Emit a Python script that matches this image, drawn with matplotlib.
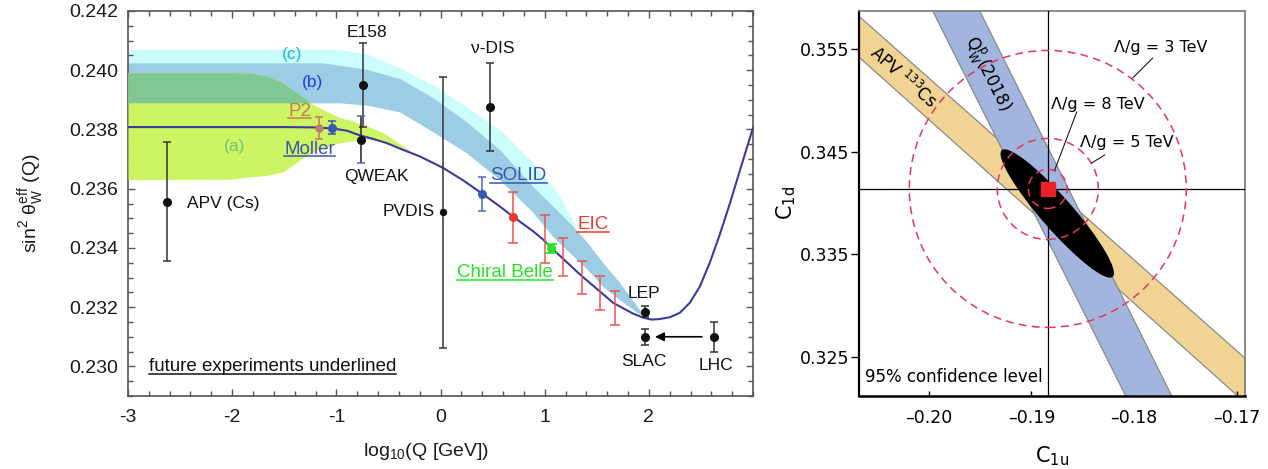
import numpy as np
import matplotlib
matplotlib.use("Agg")
import matplotlib.pyplot as plt
from matplotlib.patches import Polygon, Ellipse, Circle
from matplotlib.ticker import MultipleLocator, FixedLocator, FuncFormatter
from matplotlib.lines import Line2D

# ----------------------------- data: left panel -----------------------------
sm_logq = [-3.0, -1.5, -1.2, -1.03, -0.90, -0.774, -0.646, -0.517, -0.358, -0.198,
           0.026, 0.218, 0.394, 0.57, 0.695, 0.89, 0.986, 1.05, 1.34, 1.66, 1.85,
           1.95, 2.029, 2.106, 2.202, 2.298, 2.394, 2.489, 2.585, 2.681, 2.777,
           2.873, 2.988, 3.0]
sm_s2w = [0.23808, 0.23808, 0.23807, 0.23803, 0.23796, 0.23780, 0.23768, 0.23754,
          0.23731, 0.23709, 0.23670, 0.23628, 0.23585, 0.23540, 0.23506, 0.23456,
          0.23428, 0.23405, 0.23310, 0.23214, 0.23178, 0.23164, 0.23158, 0.23160,
          0.23166, 0.23181, 0.23215, 0.23269, 0.23350, 0.23445, 0.23549, 0.23660,
          0.23792, 0.23805]

band_a_x = [-3.0, -2.02, -1.83, -1.67, -1.51, -1.35, -1.25, -1.19, -0.97, -0.87, -0.71, -0.55, -0.30]
band_a_hi = [0.23992, 0.23992, 0.23990, 0.23981, 0.23957, 0.23917, 0.23890, 0.23878,
             0.23840, 0.23832, 0.23812, 0.23789, 0.23730]
band_a_lo = [0.23630, 0.23632, 0.23640, 0.23645, 0.23657, 0.23697, 0.23718, 0.23731,
             0.23755, 0.23760, 0.23768, 0.23760, 0.23726]

band_b_x_hi = [-3.0, -1.13, -0.71, -0.39, -0.07, 0.25, 0.57, 0.89, 1.24, 1.41, 1.56, 1.72, 1.89, 1.96]
band_b_hi = [0.24025, 0.24025, 0.24003, 0.23972, 0.23907, 0.23826, 0.23731, 0.23606,
             0.23485, 0.23418, 0.23350, 0.23283, 0.23202, 0.23168]
band_b_x_lo = [-3.0, -0.97, -0.70, -0.39, -0.07, 0.25, 0.57, 0.89, 1.08, 1.24, 1.41, 1.56, 1.72, 1.89, 1.96]
band_b_lo = [0.23890, 0.23890, 0.23882, 0.23859, 0.23792, 0.23721, 0.23630, 0.23519,
             0.23438, 0.23384, 0.23327, 0.23269, 0.23225, 0.23181, 0.23168]

band_c_x = [-3.0, -1.0, -0.70, -0.39, -0.07, 0.25, 0.57, 0.89, 1.15, 1.30]
band_c_hi = [0.24071, 0.24071, 0.24055, 0.24008, 0.23950, 0.23876, 0.23799, 0.23687, 0.23573, 0.23470]

# existing measurements (black)
meas_names = ["APV (Cs)", "E158", "QWEAK", "PVDIS", "ν-DIS", "LEP", "SLAC", "LHC"]
meas_logq = [-2.63, -0.745, -0.764, 0.023, 0.474, 1.962, 1.962, 2.624]
meas_s2w = [0.23556, 0.23950, 0.23765, 0.23520, 0.23876, 0.23185, 0.23098, 0.23100]
meas_err = [0.00200, 0.00141, 0.00079, 0.00457, 0.00150, 0.00018, 0.00027, 0.00050]

# future experiments
p2_logq, p2_s2w, p2_err = -1.167, 0.23805, 0.00037
moller_logq, moller_s2w, moller_err = -1.042, 0.23805, 0.00022
solid_logq, solid_s2w, solid_err = 0.397, 0.23582, 0.00059
belle_logq, belle_s2w, belle_err = 1.060, 0.23399, 0.00015
eic_logq = [0.695, 1.002, 1.175, 1.357, 1.530, 1.674]
eic_s2w = [0.23504, 0.23430, 0.23370, 0.23300, 0.23249, 0.23198]
eic_err = [0.00086, 0.00080, 0.00064, 0.00057, 0.00057, 0.00057]

# LHC -> SLAC arrow (log10 Q, sin2)
arrow_from = (2.51, 0.2310)
arrow_to = (2.06, 0.2310)

# ----------------------------- data: right panel ----------------------------
apv_c1u = [-0.2100, -0.1660, -0.1660, -0.2100]
apv_c1d = [0.36103, 0.32205, 0.31771, 0.35707]
qw_c1u = [-0.20127, -0.19668, -0.17474, -0.17921]
qw_c1d = [0.3620, 0.3620, 0.3180, 0.3180]
sm_c1u, sm_c1d = -0.18841, 0.34137
fit_center = (-0.18749, 0.33898)
fit_width, fit_height, fit_angle = 0.0164, 0.0031, -48.8
lambda_labels = ["Λ/g = 3 TeV", "Λ/g = 5 TeV", "Λ/g = 8 TeV"]
lambda_radii = [0.01349, 0.00492, 0.00190]

# ----------------------------- style -----------------------------
plt.rcParams['font.family'] = ['Liberation Sans', 'DejaVu Sans']
plt.rcParams['mathtext.fontset'] = 'custom'
plt.rcParams['mathtext.rm'] = 'Liberation Sans'
plt.rcParams['axes.unicode_minus'] = False

fig = plt.figure(figsize=(12.68, 4.69), dpi=100)
ax = fig.add_axes([128/1268, 73/469, 625/1268, 385/469])
ax2 = fig.add_axes([859/1268, 73/469, 386/1268, 385/469])

# ----------------------------- left panel -----------------------------
xf = np.linspace(-3, 3, 2401)
a_hi = np.interp(xf, band_a_x, band_a_hi)
a_lo = np.interp(xf, band_a_x, band_a_lo)
b_hi = np.interp(xf, band_b_x_hi, band_b_hi)
b_lo = np.interp(xf, band_b_x_lo, band_b_lo)
c_hi = np.interp(xf, band_c_x, band_c_hi)
in_a = xf <= band_a_x[-1]
in_b = xf <= band_b_x_hi[-1]
in_c = xf <= band_c_x[-1]

ax.fill_between(xf, b_lo, c_hi, where=in_c, color='#ccfdfd', lw=0, zorder=1)
ax.fill_between(xf, b_lo, b_hi, where=in_b, color='#9dcde4', lw=0, zorder=2)
ax.fill_between(xf, a_lo, a_hi, where=in_a, color='#cdf563', lw=0, zorder=3)
ov_lo = np.maximum(a_lo, b_lo)
ov_hi = np.minimum(a_hi, b_hi)
ax.fill_between(xf, ov_lo, ov_hi, where=in_a & (ov_hi > ov_lo), color='#7fc894',
                lw=0, zorder=4, interpolate=True)

ax.plot(sm_logq, sm_s2w, color='#3b3a9e', lw=1.5, zorder=6, solid_joinstyle='round')

# black measurements
for i, name in enumerate(meas_names):
    ms = 4.3 if name == "PVDIS" else 5.5
    if name == "QWEAK":
        ax.errorbar(meas_logq[i], meas_s2w[i], yerr=meas_err[i], fmt='o', color='#111',
                    ms=ms, ecolor='#222', elinewidth=1.1, capsize=0, zorder=8)
        ax.errorbar(meas_logq[i], meas_s2w[i], yerr=meas_err[i], fmt='none',
                    ecolor='#4a64c8', elinewidth=0, capsize=3.2, capthick=1.1, zorder=8)
    else:
        ax.errorbar(meas_logq[i], meas_s2w[i], yerr=meas_err[i], fmt='o', color='#111',
                    ms=ms, ecolor='#333', elinewidth=1.1, capsize=3.2, capthick=1.1, zorder=8)

ax.errorbar(p2_logq, p2_s2w, yerr=p2_err, fmt='o', color='#c07a68', ms=5, ecolor='#c07a68',
            elinewidth=1.1, capsize=3.2, capthick=1.1, zorder=8)
ax.errorbar(moller_logq, moller_s2w, yerr=moller_err, fmt='o', color='#3a56b4', ms=5.5,
            ecolor='#3a56b4', elinewidth=1.1, capsize=3.2, capthick=1.1, zorder=8)
ax.errorbar(solid_logq, solid_s2w, yerr=solid_err, fmt='o', color='#3a56b4', ms=5.5,
            ecolor='#4a66c4', elinewidth=1.1, capsize=3.2, capthick=1.1, zorder=8)
ax.errorbar(belle_logq, belle_s2w, yerr=belle_err, fmt='o', color='#2ee02e', ms=5.5,
            ecolor='#2ee02e', elinewidth=1.1, capsize=4.0, capthick=1.3, zorder=8)
ax.errorbar(eic_logq, eic_s2w, yerr=eic_err, fmt='none', ecolor='#e8564c',
            elinewidth=1.1, capsize=3.6, capthick=1.1, zorder=7)
ax.plot(eic_logq[0], eic_s2w[0], 'o', color='#e83a2c', ms=5.5, zorder=8)

ax.annotate('', xy=arrow_to, xytext=arrow_from,
            arrowprops=dict(arrowstyle='-|>', color='black', lw=1.2, mutation_scale=13,
                            shrinkA=0, shrinkB=0), zorder=9)

fs = 12.5
txt = dict(fontsize=fs, ha='center', va='center', zorder=10)
ax.text(-0.706, 0.24129, 'E158', color='#111', **txt)
ax.text(-1.426, 0.24052, '(c)', color='#22b4dc', **txt)
ax.text(-1.225, 0.23957, '(b)', color='#1c3ee6', **txt)
ax.text(-1.973, 0.23741, '(a)', color='#78c078', **txt)
ax.text(-0.615, 0.23642, 'QWEAK', color='#111', **txt)
ax.text(-2.434, 0.23551, 'APV (Cs)', color='#111', fontsize=fs, ha='left', va='center')
ax.text(-0.054, 0.23522, 'PVDIS', color='#111', fontsize=fs, ha='right', va='center')
ax.text(0.503, 0.24074, 'ν-DIS', color='#111', **txt)
ax.text(1.952, 0.23247, 'LEP', color='#111', **txt)
ax.text(1.957, 0.23018, 'SLAC', color='#111', **txt)
ax.text(2.643, 0.23004, 'LHC', color='#111', **txt)

under = []
under.append(ax.text(-1.349, 0.23861, 'P2', color='#c07a58', fontsize=13.5, ha='center', va='center', zorder=10))
under.append(ax.text(-1.258, 0.23733, 'Moller', color='#3a52b0', fontsize=13.5, ha='center', va='center', zorder=10))
under.append(ax.text(0.748, 0.23643, 'SOLID', color='#3a52b0', fontsize=13.5, ha='center', va='center', zorder=10))
under.append(ax.text(1.463, 0.23479, 'EIC', color='#e8402e', fontsize=13.5, ha='center', va='center', zorder=10))
under.append(ax.text(0.618, 0.23316, 'Chiral Belle', color='#22e622', fontsize=13.5, ha='center', va='center', zorder=10))
under.append(ax.text(-2.798, 0.22998, 'future experiments underlined', color='#111', fontsize=13.5,
                     ha='left', va='center', zorder=10))

ax.set_xlim(-3, 3)
ax.set_ylim(0.229, 0.242)
ax.xaxis.set_major_locator(FixedLocator([-3, -2, -1, 0, 1, 2]))
ax.xaxis.set_minor_locator(MultipleLocator(0.2))
ax.yaxis.set_major_locator(MultipleLocator(0.002))
ax.yaxis.set_minor_locator(MultipleLocator(0.0005))
ax.yaxis.set_major_formatter(FuncFormatter(lambda v, p: f"{v:.3f}"))
ax.xaxis.set_major_formatter(FuncFormatter(lambda v, p: f"{v:.0f}"))
ax.tick_params(which='both', direction='in', top=True, right=True, color='#555555',
               labelsize=14, labelcolor='#1a1a1a')
ax.tick_params(which='major', length=5, width=1.0)
ax.tick_params(which='minor', length=3.3, width=1.0)
ax.tick_params(axis='x', pad=9)
ax.tick_params(axis='y', pad=7)
for s in ax.spines.values():
    s.set_color('#555555')
    s.set_linewidth(1.2)
ax.set_xlabel('log$_\\mathregular{10}$(Q [GeV])', fontsize=14, color='#1a1a1a')
ax.xaxis.set_label_coords(0.477, -0.117)
ax.set_ylabel('sin$^\\mathregular{2}$ θ$_\\mathregular{W}^\\mathregular{eff}$ (Q)', fontsize=14, color='#1a1a1a')
ax.yaxis.set_label_coords(-0.13, 0.5)

# ----------------------------- right panel -----------------------------
rf = ['DejaVu Sans']
ax2.add_patch(Polygon(np.column_stack([apv_c1u, apv_c1d]), closed=True, fc='#f1d394',
                      ec='#8a8a8a', lw=0.9, zorder=1))
ax2.add_patch(Polygon(np.column_stack([qw_c1u, qw_c1d]), closed=True, fc='#a1b5de',
                      ec='#8a8a8a', lw=0.9, zorder=2))
ax2.add_patch(Ellipse(fit_center, fit_width, fit_height, angle=fit_angle, fc='black',
                      ec='none', zorder=3))
ax2.axvline(sm_c1u, color='black', lw=0.9, zorder=4)
ax2.axhline(sm_c1d, color='black', lw=0.9, zorder=4)
for r in lambda_radii:
    ax2.add_patch(Circle((sm_c1u, sm_c1d), r, fill=False, ec='#e8345e', lw=1.1,
                         ls=(0, (5.2, 3.4)), zorder=5))
ax2.plot(sm_c1u, sm_c1d, 's', color='#ea2128', ms=9.5, zorder=6)

# labels and leaders
ax2.text(-0.17741, 0.35510, lambda_labels[0], family=rf, fontsize=11.5, ha='center', va='center')
ax2.text(-0.18072, 0.34585, lambda_labels[1], family=rf, fontsize=11.5, ha='center', va='center')
ax2.text(-0.18354, 0.34955, lambda_labels[2], family=rf, fontsize=11.5, ha='center', va='center')
ax2.plot([-0.17819, -0.18014], [0.35412, 0.35217], color='black', lw=0.7, zorder=7)
ax2.plot([-0.18286, -0.18413], [0.34468, 0.34390], color='black', lw=0.7, zorder=7)
ax2.plot([-0.18559, -0.18773], [0.34887, 0.34322], color='black', lw=0.7, zorder=7)

ax2.text(-0.20253, 0.35227, 'APV $^\\mathregular{133}$Cs', family=rf, fontsize=12,
         rotation=-41.5, rotation_mode='anchor', ha='center', va='center', zorder=8)
ax2.text(-0.19426, 0.35257, 'Q$_\\mathregular{W}^\\mathregular{p}$(2018)', family=rf, fontsize=12,
         rotation=-63.4, rotation_mode='anchor', ha='center', va='center', zorder=8)
ax2.text(-0.20623, 0.32306, '95% confidence level', family=rf, fontsize=12,
         ha='left', va='center', zorder=8)

ax2.set_xlim(-0.2068, -0.1692)
ax2.set_ylim(0.3212, 0.3587)
ax2.xaxis.set_major_locator(FixedLocator([-0.20, -0.19, -0.18, -0.17]))
ax2.yaxis.set_major_locator(FixedLocator([0.325, 0.335, 0.345, 0.355]))
ax2.xaxis.set_major_formatter(FuncFormatter(lambda v, p: f"{v:.2f}".replace('-', '\u2013')))
ax2.yaxis.set_major_formatter(FuncFormatter(lambda v, p: f"{v:.3f}"))
ax2.tick_params(axis='x', direction='in', length=3.4, width=1.0, pad=9, labelsize=12.5)
ax2.tick_params(axis='y', direction='out', length=5.5, width=1.0, pad=1.5, labelsize=12.5)
for lab in ax2.get_xticklabels() + ax2.get_yticklabels():
    lab.set_family(rf)
ax2.spines['left'].set_linewidth(1.6)
ax2.spines['bottom'].set_linewidth(1.8)
ax2.spines['top'].set_color('#777777')
ax2.spines['right'].set_color('#777777')
ax2.spines['top'].set_linewidth(1.2)
ax2.spines['right'].set_linewidth(1.2)
ax2.set_xlabel('C$_\\mathregular{1u}$', family=rf, fontsize=15)
ax2.xaxis.set_label_coords(0.5, -0.125)
ax2.set_ylabel('C$_\\mathregular{1d}$', family=rf, fontsize=15)
ax2.yaxis.set_label_coords(-0.158, 0.5)

# underlines for future experiments
fig.canvas.draw()
renderer = fig.canvas.get_renderer()
inv = fig.transFigure.inverted()
for t in under:
    bb = t.get_window_extent(renderer)
    (x0, y0), (x1, _) = inv.transform([(bb.x0, bb.y0 + 1.5), (bb.x1, bb.y0 + 1.5)])
    fig.add_artist(Line2D([x0, x1], [y0, y0], transform=fig.transFigure,
                          color=t.get_color(), lw=1.1))

fig.savefig('out.png', dpi=100)
